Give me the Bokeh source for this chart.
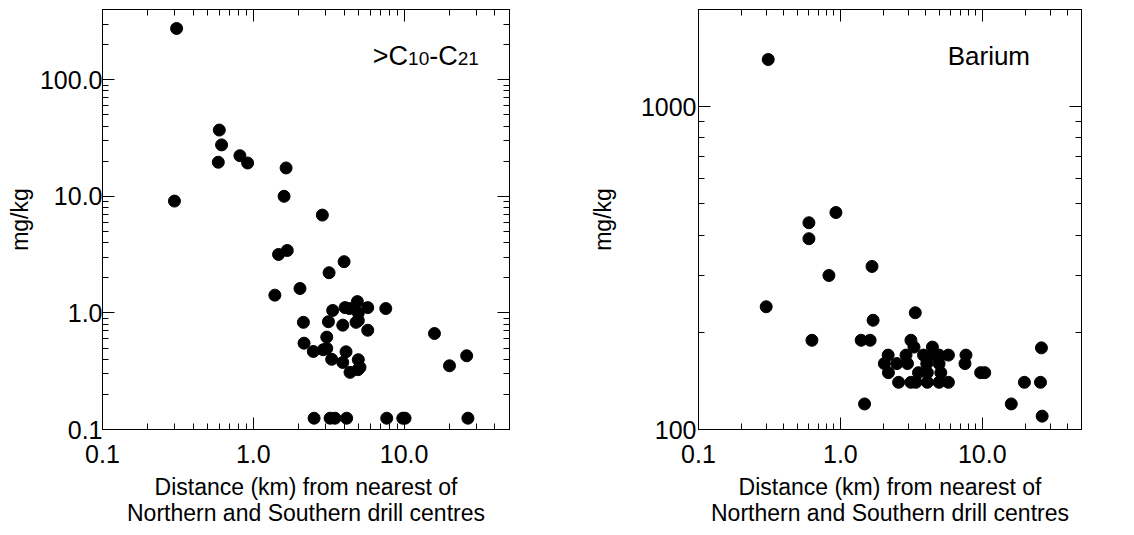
from bokeh.plotting import figure
from bokeh.models import (FixedTicker, PrintfTickFormatter, LogAxis, Label,
                          CustomJSTickFormatter)
from bokeh.layouts import row
from bokeh.embed import file_html
from bokeh.resources import INLINE

# ---- data: >C10-C21 hydrocarbons ----
hc_dist = [0.31, 0.30, 0.595, 0.616, 0.586, 0.815, 0.917, 1.65, 1.60, 2.87,
           1.47, 1.68, 4.0, 3.18, 1.39, 2.04, 2.15, 2.17, 2.5, 2.91,
           3.07, 3.07, 3.15, 3.36, 3.31, 3.92, 3.92, 4.12, 4.06, 4.34,
           4.38, 4.9, 4.97, 4.8, 4.97, 4.97, 5.1, 4.94, 5.74, 5.74,
           7.56, 15.9, 20.0, 26.0,
           2.53, 3.23, 3.48, 4.16, 7.67, 9.8, 10.15, 26.5]
hc_conc = [275, 9.1, 37, 27.6, 19.6, 22.3, 19.3, 17.5, 10.0, 6.9,
           3.17, 3.43, 2.75, 2.21, 1.42, 1.62, 0.83, 0.55, 0.467, 0.483,
           0.496, 0.62, 0.84, 1.05, 0.40, 0.785, 0.376, 0.464, 1.11, 1.09,
           0.309, 1.25, 1.0, 0.83, 0.86, 0.397, 0.341, 0.326, 1.11, 0.71,
           1.09, 0.666, 0.352, 0.429,
           0.125, 0.125, 0.125, 0.125, 0.125, 0.125, 0.125, 0.125]

# ---- data: Barium ----
ba_dist = [0.31, 0.30, 0.60, 0.60, 0.93, 0.83, 0.63, 1.67, 1.70, 1.40,
           1.62, 1.48, 3.37, 3.14, 3.30, 2.17, 2.04, 2.18, 2.50, 2.57,
           2.90, 2.97, 3.14, 3.40, 3.55, 3.85, 4.06, 4.10, 4.10, 4.45,
           4.57, 4.96, 4.96, 5.10, 4.96, 5.77, 5.77, 7.67, 7.55, 9.73,
           10.4, 16.0, 19.8, 25.7, 26.1, 26.4]
ba_conc = [1400, 240, 437, 390, 470, 300, 189, 320, 218, 189,
           189, 120, 230, 189, 180, 170, 160, 150, 160, 140,
           170, 160, 140, 140, 150, 170, 160, 150, 140, 180,
           170, 170, 160, 150, 140, 170, 140, 170, 160, 150,
           150, 120, 140, 140, 179, 110]

x_major = [0.1, 1.0, 10.0]
x_minor = [0.2, 0.3, 0.4, 0.5, 0.6, 0.7, 0.8, 0.9,
           2, 3, 4, 5, 6, 7, 8, 9, 20, 30, 40, 50]
hc_major = [0.1, 1.0, 10.0, 100.0]
hc_minor = [0.2, 0.3, 0.4, 0.5, 0.6, 0.7, 0.8, 0.9, 2, 3, 4, 5, 6, 7, 8, 9,
            20, 30, 40, 50, 60, 70, 80, 90, 200, 300, 400]
ba_major = [100, 1000]
ba_minor = [200, 300, 400, 500, 600, 700, 800, 900, 2000]

FONT = "Liberation Sans"
XLABEL = "Distance (km) from nearest of\nNorthern and Southern drill centres"

TOP = 9
FRAME_H = 420
BOTTOM = 105


def style_axis(ax, major, minor, fmt, standoff, label_standoff):
    ax.ticker = FixedTicker(ticks=major, minor_ticks=minor)
    ax.formatter = PrintfTickFormatter(format=fmt)
    ax.major_tick_in = 12
    ax.major_tick_out = 0
    ax.minor_tick_in = 6
    ax.minor_tick_out = 0
    ax.axis_line_color = "black"
    ax.major_tick_line_color = "black"
    ax.minor_tick_line_color = "black"
    ax.major_label_text_font = FONT
    ax.major_label_text_font_size = "25px"
    ax.major_label_text_color = "black"
    ax.major_label_standoff = standoff
    ax.axis_label_text_font = FONT
    ax.axis_label_text_font_size = "23px"
    ax.axis_label_text_font_style = "normal"
    ax.axis_label_text_color = "black"
    ax.axis_label_standoff = label_standoff


def mirror(p, major, minor, side):
    ax = LogAxis(ticker=FixedTicker(ticks=major, minor_ticks=minor),
                 formatter=CustomJSTickFormatter(code="return ''"))
    ax.major_tick_in = 12
    ax.major_tick_out = 0
    ax.minor_tick_in = 6
    ax.minor_tick_out = 0
    ax.major_label_standoff = 0
    ax.major_label_text_font_size = "0px"
    ax.axis_line_color = "black"
    p.add_layout(ax, side)


def make(xs, ys, yrange, ymajor, yminor, yfmt, bl, br, fw, ylab_standoff, ytick_standoff):
    p = figure(width=bl + fw + br, height=TOP + FRAME_H + BOTTOM,
               x_axis_type="log", y_axis_type="log",
               x_range=(0.1, 50), y_range=yrange, output_backend="svg",
               toolbar_location=None, min_border_left=bl, min_border_right=br,
               min_border_top=TOP, min_border_bottom=BOTTOM)
    p.xgrid.visible = False
    p.ygrid.visible = False
    p.outline_line_color = "black"
    p.outline_line_width = 1
    p.background_fill_color = "white"
    p.border_fill_color = "white"
    p.scatter(xs, ys, size=12, color="black", marker="circle")
    style_axis(p.xaxis[0], x_major, x_minor, "%.1f", 15, 8)
    p.xaxis[0].axis_label = XLABEL
    p.xaxis[0].axis_label_text_line_height = 1.0
    style_axis(p.yaxis[0], ymajor, yminor, yfmt, ytick_standoff, ylab_standoff)
    p.yaxis[0].axis_label = "mg/kg"
    mirror(p, x_major, x_minor, "above")
    mirror(p, ymajor, yminor, "right")
    return p


p1 = make(hc_dist, hc_conc, (0.1, 400), hc_major, hc_minor, "%.1f",
          102, 20, 407, 4, 0)
p2 = make(ba_dist, ba_conc, (100, 2000), ba_major, ba_minor, "%d",
          169, 30, 383, 22, 2)


def piece(p, x, y, text, size, dx, dy=0):
    p.add_layout(Label(x=x, y=y, text=text, x_offset=dx, y_offset=dy,
                       text_font=FONT, text_font_size=size,
                       text_color="black", text_baseline="alphabetic",
                       text_align="left"))


lx, ly = 6.2, 160
piece(p1, lx, ly, ">C", "27px", 0)
piece(p1, lx, ly, "10", "19px", 35.3, -3)
piece(p1, lx, ly, "-C", "27px", 56.4)
piece(p1, lx, ly, "21", "19px", 84.9, -3)

piece(p2, 5.7, 1436, "Barium", "26px", 0)

layout = row(p1, p2)
open("out.html", "w").write(file_html(layout, INLINE))
